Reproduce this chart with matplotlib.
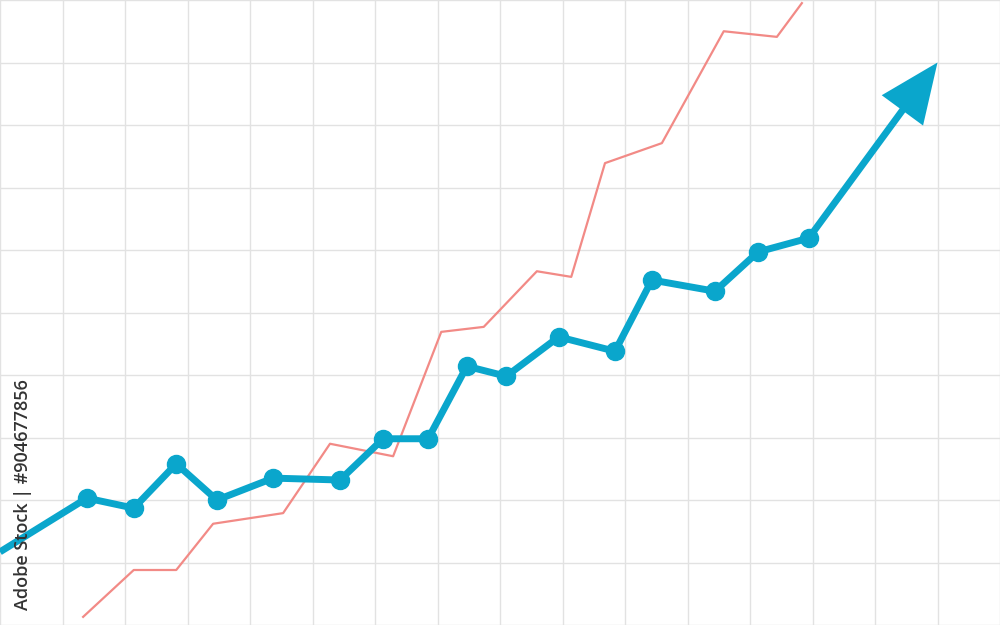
import matplotlib.pyplot as plt
import numpy as np

# blue series (grid units, 16 x 10 cells)
blue_x = [0.0, 1.39, 2.14, 2.82, 3.47, 4.37, 5.44, 6.13, 6.85, 7.47, 8.10, 8.94, 9.84, 10.43, 11.44, 12.13, 12.94]
blue_y = [1.17, 2.03, 1.87, 2.58, 2.00, 2.35, 2.32, 2.98, 2.98, 4.14, 3.98, 4.61, 4.38, 5.52, 5.34, 5.97, 6.19]
arrow_tip = (15.0, 9.0)

# red series
red_x = [1.33, 2.14, 2.82, 3.41, 4.53, 5.28, 6.29, 7.06, 7.74, 8.59, 9.14, 9.68, 10.59, 11.58, 12.43, 12.83]
red_y = [0.13, 0.88, 0.88, 1.62, 1.79, 2.90, 2.70, 4.69, 4.77, 5.66, 5.57, 7.39, 7.71, 9.50, 9.41, 9.95]

blue = '#0aa6cc'
red = '#f28a86'

fig = plt.figure(figsize=(10, 6.25), dpi=100)
ax = fig.add_axes([0, 0, 1, 1])
ax.set_xlim(0, 16)
ax.set_ylim(0, 10)
ax.set_xticks(np.arange(0, 17))
ax.set_yticks(np.arange(0, 11))
ax.grid(True, color='#e2e2e2', linewidth=1)
ax.tick_params(length=0, labelbottom=False, labelleft=False)
for s in ax.spines.values():
    s.set_visible(False)
ax.set_axisbelow(True)

ax.plot(red_x, red_y, color=red, linewidth=1.6, zorder=2)

# arrow from last point to tip
dx = arrow_tip[0] - blue_x[-1]
dy = arrow_tip[1] - blue_y[-1]
ax.arrow(blue_x[-1], blue_y[-1], dx, dy, width=0.11, head_width=0.82, head_length=0.95,
         length_includes_head=True, color=blue, linewidth=0, zorder=3)

ax.plot(blue_x, blue_y, color=blue, linewidth=5, marker='o', markersize=13,
        markevery=list(range(1, len(blue_x))), solid_capstyle='butt', zorder=4)

fig.text(0.023, 0.024, 'Adobe Stock | #904677856', rotation=90, ha='center', va='bottom',
         fontsize=13, color='#333333', family='Open Sans', weight='semibold')

fig.savefig('out.png', dpi=100)
